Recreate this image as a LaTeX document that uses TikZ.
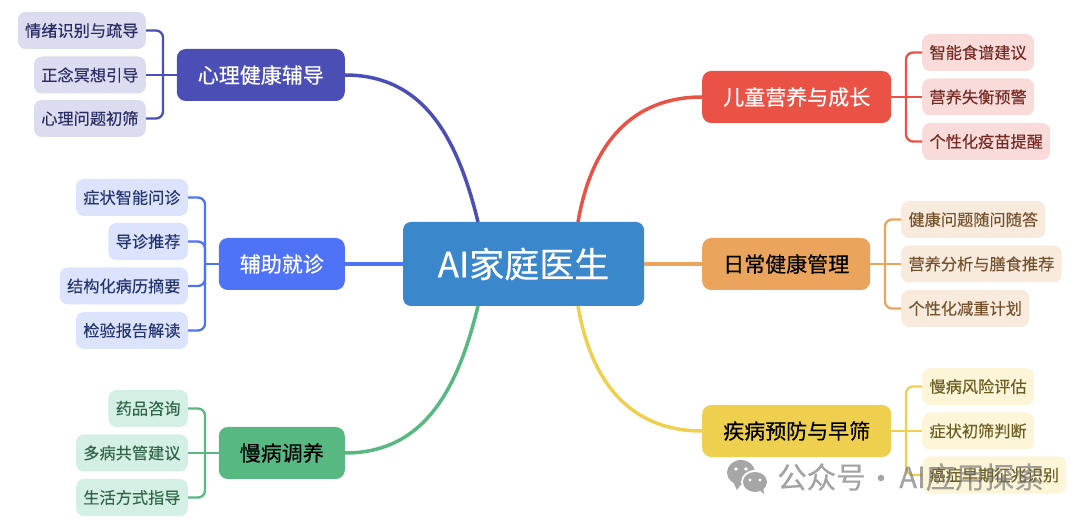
\documentclass[tikz,border=0pt]{standalone}
\usepackage{fontspec}
\setmainfont{Noto Sans CJK SC}
\newfontfamily\leaffont[FakeBold=0.12]{Noto Sans CJK SC}
\newfontfamily\branchfont[FakeBold=0.35]{Noto Sans CJK SC}
\definecolor{rootcol}{HTML}{3A87CC}
\definecolor{psycol}{HTML}{4B4FB5}
\definecolor{auxcol}{HTML}{4F73F7}
\definecolor{chrcol}{HTML}{57B981}
\definecolor{kidcol}{HTML}{EA5246}
\definecolor{daycol}{HTML}{EAA45C}
\definecolor{prvcol}{HTML}{EFD04E}
\definecolor{chrfill}{HTML}{D4F0E5}
\definecolor{kidfill}{HTML}{F9DBD9}
\definecolor{dayfill}{HTML}{F8EADC}
\definecolor{prvfill}{HTML}{FCF5D8}
\tikzset{
  rootbox/.style={fill=rootcol,rounded corners=8pt,text=white,minimum width=241pt,minimum height=84pt,
    inner sep=0pt,font=\branchfont\fontsize{35}{35}\selectfont},
  branchbox/.style={fill=#1,rounded corners=9pt,minimum height=52pt,minimum width=0pt,inner xsep=21pt,inner ysep=0pt,
    font=\branchfont\fontsize{21}{21}\selectfont},
  leafbox/.style={rounded corners=8pt,minimum height=37pt,inner xsep=7.3pt,inner ysep=0pt,
    font=\leaffont\fontsize{16.2}{16.2}\selectfont},
  psyleaf/.style={leafbox,anchor=east,fill=psycol!20,text=psycol!55!black},
  auxleaf/.style={leafbox,anchor=east,fill=auxcol!20,text=auxcol!45!black},
  chrleaf/.style={leafbox,anchor=east,fill=chrfill,text=chrcol!55!black},
  kidleaf/.style={leafbox,anchor=west,fill=kidfill,text=kidcol!50!black},
  dayleaf/.style={leafbox,anchor=west,fill=dayfill,text=daycol!50!black},
  prvleaf/.style={leafbox,anchor=west,fill=prvfill,text=prvcol!45!black},
  link/.style={draw=#1,line width=3.5pt},
  twig/.style={draw=#1,line width=2.3pt,rounded corners=7pt},
  markgray/.style={text=black!55,opacity=.65,font=\leaffont\fontsize{29.5}{30}\selectfont},
}
\begin{document}
\begin{tikzpicture}[x=1pt,y=-1pt]
  \useasboundingbox (0,0) rectangle (1080,521);
  % centre
  \node[rootbox] (root) at (523.5,264) {AI家庭医生};
  \coordinate (rootnl) at (478,222);
  \coordinate (rootnr) at (578,222);
  \coordinate (rootsl) at (478,306);
  \coordinate (rootsr) at (578,306);
  % branches
  \node[branchbox=psycol,text=white,anchor=east] (psy) at (345,75) {心理健康辅导};
  \node[branchbox=auxcol,text=white,anchor=east] (aux) at (345,264) {辅助就诊};
  \node[branchbox=chrcol,text=black,anchor=east] (chr) at (345,453) {慢病调养};
  \node[branchbox=kidcol,text=white,anchor=west] (kid) at (702,97) {儿童营养与成长};
  \node[branchbox=daycol,text=black,anchor=west] (day) at (702,264) {日常健康管理};
  \node[branchbox=prvcol,text=black,anchor=west] (prv) at (702,431) {疾病预防与早筛};
  % leaves
  \node[psyleaf] (psya) at (146,30.5) {情绪识别与疏导};
  \node[psyleaf] (psyb) at (146,75) {正念冥想引导};
  \node[psyleaf] (psyc) at (146,118.5) {心理问题初筛};
  \node[auxleaf] (auxa) at (188,197.5) {症状智能问诊};
  \node[auxleaf] (auxb) at (188,241.5) {导诊推荐};
  \node[auxleaf] (auxc) at (188,286) {结构化病历摘要};
  \node[auxleaf] (auxd) at (188,330.5) {检验报告解读};
  \node[chrleaf] (chra) at (188,408.5) {药品咨询};
  \node[chrleaf] (chrb) at (188,453) {多病共管建议};
  \node[chrleaf] (chrc) at (188,497.5) {生活方式指导};
  \node[kidleaf] (kida) at (922,52.5) {智能食谱建议};
  \node[kidleaf] (kidb) at (922,97) {营养失衡预警};
  \node[kidleaf] (kidc) at (922,141.5) {个性化疫苗提醒};
  \node[dayleaf] (daya) at (901,219.5) {健康问题随问随答};
  \node[dayleaf] (dayb) at (901,264) {营养分析与膳食推荐};
  \node[dayleaf] (dayc) at (901,308.5) {个性化减重计划};
  \node[prvleaf] (prva) at (922,386.5) {慢病风险评估};
  \node[prvleaf] (prvb) at (922,431) {症状初筛判断};
  \node[prvleaf] (prvc) at (922,475) {癌症早期征兆识别};
  % main links
  \draw[link=psycol] (psy.east) .. controls (425,75) and (458,140) .. (rootnl);
  \draw[link=chrcol] (chr.east) .. controls (425,453) and (458,388) .. (rootsl);
  \draw[link=kidcol] (kid.west) .. controls (635,97) and (592,140) .. (rootnr);
  \draw[link=prvcol] (prv.west) .. controls (635,431) and (592,388) .. (rootsr);
  \draw[link=auxcol] (aux.east) -- (root.west);
  \draw[link=daycol] (day.west) -- (root.east);
  % twigs
  \coordinate (psyj) at (163,75);
  \coordinate (auxj) at (205,264);
  \coordinate (chrj) at (205,453);
  \coordinate (kidj) at (906,97);
  \coordinate (dayj) at (885,264);
  \coordinate (prvj) at (906,431);
  \draw[twig=psycol] (psya.east) -| (psyj) |- (psyc.east);
  \draw[twig=psycol] (psy.west) -- (psyb.east);
  \draw[twig=auxcol] (auxa.east) -| (auxj) |- (auxd.east);
  \draw[twig=auxcol] (auxb.east) -| (auxj) |- (auxc.east);
  \draw[twig=auxcol] (aux.west) -- (auxj);
  \draw[twig=chrcol] (chra.east) -| (chrj) |- (chrc.east);
  \draw[twig=chrcol] (chr.west) -- (chrb.east);
  \draw[twig=kidcol] (kida.west) -| (kidj) |- (kidc.west);
  \draw[twig=kidcol] (kid.east) -- (kidb.west);
  \draw[twig=daycol] (daya.west) -| (dayj) |- (dayc.west);
  \draw[twig=daycol] (day.east) -- (dayb.west);
  \draw[twig=prvcol] (prva.west) -| (prvj) |- (prvc.west);
  \draw[twig=prvcol] (prv.east) -- (prvb.west);
  % watermark
  \fill[black!35] (741,472.5) ellipse (14 and 12.5);
  \fill[black!35] (733,482) -- (737,490) -- (742,483) -- cycle;
  \fill[white] (755,482) ellipse (14 and 12);
  \fill[black!35] (755,482) ellipse (12 and 10);
  \fill[black!35] (758,489) -- (764,494) -- (763,486) -- cycle;
  \fill[white] (736,469) circle (1.8) (746,469) circle (1.8) (750,480) circle (1.6) (760,480) circle (1.6);
  \node[markgray,anchor=west,inner sep=0pt] (marka) at (777,477) {公众号};
  \node[markgray,anchor=center,inner sep=0pt] (markb) at (881,482) {·};
  \node[markgray,anchor=west,inner sep=0pt] (markc) at (899,477) {AI应用探索};
\end{tikzpicture}
\end{document}
